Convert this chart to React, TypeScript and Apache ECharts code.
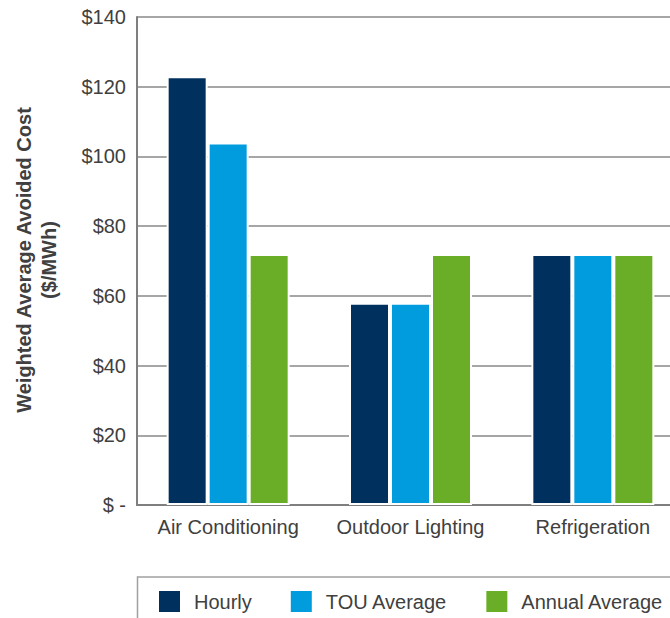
import React, { useEffect, useRef } from "react";
import * as echarts from "echarts";

const categories = ["Air Conditioning", "Outdoor Lighting", "Refrigeration"];
const hourly = [123, 58, 72];
const touAverage = [104, 58, 72];
const annualAverage = [72, 72, 72];
const seriesNames = ["Hourly", "TOU Average", "Annual Average"];
const yTicks = { min: 0, max: 140, interval: 20 };
const yAxisTitle = "Weighted Average Avoided Cost\n($/MWh)";

const FONT = "'Liberation Sans', Arial, sans-serif";
const TEXT = "#404040";

export default function App() {
  const ref = useRef<HTMLDivElement>(null);
  useEffect(() => {
    if (!ref.current) return;
    const chart = echarts.init(ref.current, null, { renderer: "svg" });
    const barStyle = (color: string) => ({
      color,
      borderColor: "#ffffff",
      borderWidth: 2,
    });
    chart.setOption({
      animation: false,
      backgroundColor: "#ffffff",
      textStyle: { fontFamily: FONT },
      grid: { left: 137, right: 6, top: 17, bottom: 113, containLabel: false },
      xAxis: {
        type: "category",
        data: categories,
        axisLine: { show: true, lineStyle: { color: "#7f7f7f", width: 2 } },
        axisTick: { show: false },
        axisLabel: { color: TEXT, fontSize: 20, margin: 12, fontFamily: FONT, interval: 0 },
        splitLine: { show: false },
      },
      yAxis: {
        type: "value",
        min: yTicks.min,
        max: yTicks.max,
        interval: yTicks.interval,
        axisLine: { show: true, lineStyle: { color: "#7f7f7f", width: 2 } },
        axisTick: { show: false },
        axisLabel: {
          color: TEXT,
          fontSize: 20,
          margin: 11,
          fontFamily: FONT,
          formatter: (v: number) => (v === 0 ? "$ -" : "$" + v),
        },
        splitLine: { show: true, lineStyle: { color: "#a6a6a6", width: 2 } },
      },
      legend: {
        data: seriesNames,
        left: 157,
        top: 589,
        padding: 0,
        itemWidth: 23,
        itemHeight: 23,
        itemGap: 37,
        icon: "rect",
        textStyle: { color: TEXT, fontSize: 20, fontFamily: FONT, padding: [0, 0, 0, 8] },
      },
      graphic: [
        {
          type: "rect",
          shape: { x: 137.5, y: 577, width: 620, height: 60 },
          style: { fill: "none", stroke: "#a0a0a0", lineWidth: 1.5 },
          silent: true,
        },
        {
          type: "text",
          x: 36,
          y: 260,
          rotation: Math.PI / 2,
          style: {
            text: yAxisTitle,
            fill: TEXT,
            font: `bold 20px ${FONT}`,
            textAlign: "center",
            textVerticalAlign: "middle",
            lineHeight: 25,
          },
        },
      ],
      series: [
        {
          name: seriesNames[0],
          type: "bar",
          data: hourly,
          barWidth: 41,
          barGap: "0%",
          itemStyle: barStyle("#00305e"),
        },
        {
          name: seriesNames[1],
          type: "bar",
          data: touAverage,
          barWidth: 41,
          barGap: "0%",
          itemStyle: barStyle("#009cde"),
        },
        {
          name: seriesNames[2],
          type: "bar",
          data: annualAverage,
          barWidth: 41,
          barGap: "0%",
          itemStyle: barStyle("#6aae27"),
        },
      ],
    });
    return () => chart.dispose();
  }, []);
  return (
    <div
      style={{ position: "absolute", left: 0, top: 0, width: 670, height: 618, overflow: "hidden" }}
    >
      <div ref={ref} style={{ width: 690, height: 618 }} />
    </div>
  );
}
